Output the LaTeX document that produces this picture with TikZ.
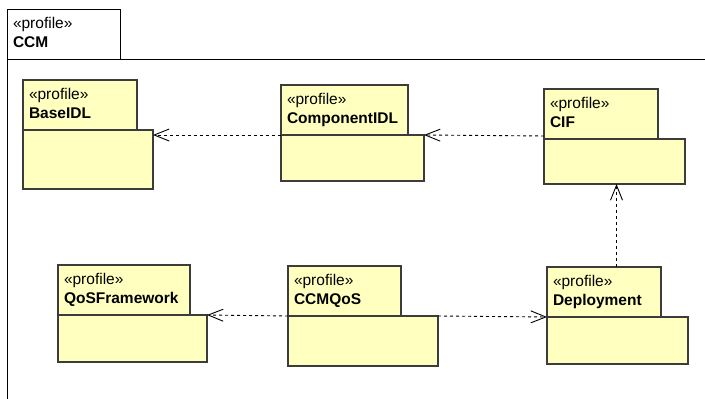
\documentclass[tikz,border=0pt]{standalone}
\usepackage{fontspec}
\setmainfont{Liberation Sans}
\usetikzlibrary{calc,arrows.meta}
\definecolor{pkgfill}{RGB}{255,255,192}
\definecolor{pkgline}{RGB}{60,60,60}
\tikzset {>={Straight Barb[length=15pt,width=12pt]}}
\tikzset{
  pkgtab/.style={draw=pkgline,fill=pkgfill,line width=1.2pt,outer sep=0pt,anchor=north west,
    align=left,minimum height=50pt,inner xsep=6pt,inner ysep=0pt,font=\fontsize{15.5}{19}\selectfont},
  pkgbody/.style={draw=pkgline,fill=pkgfill,line width=1.2pt,outer sep=0pt,anchor=north west,inner sep=0pt},
  frametab/.style={pkgtab,draw=black,fill=white,line width=1pt},
  dep/.style={->,line width=0.9pt,dash pattern=on 3pt off 3pt}
}
\begin{document}
\begin{tikzpicture}[x=1pt,y=-1pt]
\useasboundingbox[fill=white] (0,0) rectangle (705,399);
\node[frametab,text width=101pt] (ccmT) at (7,9) {\strut«profile»\\\textbf{CCM}\strut};
\draw[line width=1pt] (ccmT.south west |- 0,399) -- (ccmT.south west) -- (ccmT.south west -| 705,0);
\node[pkgtab,text width=102pt] (baseT) at (23,80) {\strut«profile»\\\textbf{BaseIDL}\strut};
\node[pkgbody,minimum width=130pt,minimum height=59pt] (baseB) at (baseT.south west) {};
\node[pkgtab,text width=115pt] (compT) at (281,85) {\strut«profile»\\\textbf{ComponentIDL}\strut};
\node[pkgbody,minimum width=143pt,minimum height=46pt] (compB) at (compT.south west) {};
\node[pkgtab,text width=102pt] (cifT) at (544,89) {\strut«profile»\\\textbf{CIF}\strut};
\node[pkgbody,minimum width=141pt,minimum height=45pt] (cifB) at (cifT.south west) {};
\node[pkgtab,text width=120pt] (qosT) at (58,265) {\strut«profile»\\\textbf{QoSFramework}\strut};
\node[pkgbody,minimum width=149pt,minimum height=47pt] (qosB) at (qosT.south west) {};
\node[pkgtab,text width=101pt] (ccmqT) at (288,266) {\strut«profile»\\\textbf{CCMQoS}\strut};
\node[pkgbody,minimum width=150pt,minimum height=50pt] (ccmqB) at (ccmqT.south west) {};
\node[pkgtab,text width=102pt] (depT) at (547,267) {\strut«profile»\\\textbf{Deployment}\strut};
\node[pkgbody,minimum width=141pt,minimum height=47pt] (depB) at (depT.south west) {};
\draw[dep] (compT.south west) -- (compT.south west -| baseB.east);
\draw[dep] ($(cifT.south west)+(0,-3)$) -- (compB.north east);
\draw[dep] ($(depT.north -| cifB.south)+(2,0)$) -- ($(cifB.south)+(2,0)$);
\draw[dep] (ccmqT.south west) -- (qosB.north east);
\draw[dep] (ccmqB.north east) -- (depB.north west);
\end{tikzpicture}
\end{document}
